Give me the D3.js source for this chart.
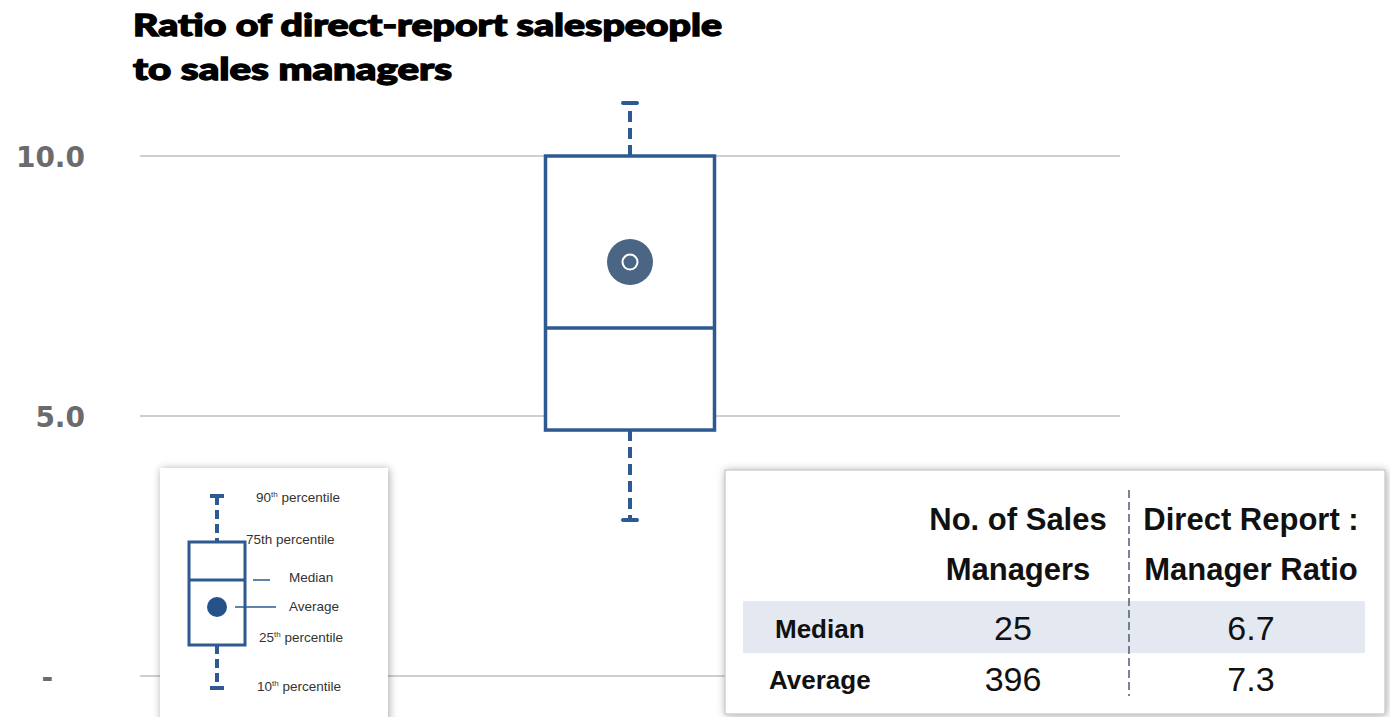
<!DOCTYPE html>
<html>
<head>
<meta charset="utf-8">
<script src="https://cdn.jsdelivr.net/npm/d3@7"></script>
<style>
  body { margin: 0; background: #fff; }
  svg { display: block; }
</style>
</head>
<body>
<div id="chart"></div>
<script>
// values
const yTicks = [0, 5, 10];
const groups = ["All"];
const statNames = ["p10", "p25", "median", "p75", "p90", "mean"];
const statValues = [3.0, 4.73, 6.69, 10.0, 11.02, 7.96];

const legendLabels = ["90th percentile", "75th percentile", "Median", "Average", "25th percentile", "10th percentile"];

const tableHeaders = [["No. of Sales", "Managers"], ["Direct Report :", "Manager Ratio"]];
const rowLabels = ["Median", "Average"];
const managerCounts = ["25", "396"];
const ratios = ["6.7", "7.3"];

const W = 1390, H = 717;
const blue = "#2d5a92";
const stats = {};
statNames.forEach((n, i) => stats[n] = statValues[i]);

const svg = d3.select("#chart").append("svg").attr("width", W).attr("height", H);

const defs = svg.append("defs");
const sh = defs.append("filter").attr("id", "shadow").attr("x", "-10%").attr("y", "-10%").attr("width", "120%").attr("height", "120%");
sh.append("feDropShadow").attr("dx", 1).attr("dy", 1).attr("stdDeviation", 4).attr("flood-color", "#000").attr("flood-opacity", 0.35);

const y = d3.scaleLinear().domain([0, 10]).range([676, 156]);
const x = d3.scalePoint().domain(groups).range([140, 1120]).padding(0.5);
const boxW = 169;

// title
const title = svg.append("g").attr("font-family", "Lato, 'DejaVu Sans', sans-serif").attr("font-weight", 900)
  .attr("font-size", 30).attr("fill", "#000").attr("stroke", "#000").attr("stroke-width", 1.3);
title.append("text").attr("x", 133).attr("y", 36).attr("textLength", 589).attr("lengthAdjust", "spacingAndGlyphs").text("Ratio of direct-report salespeople");
title.append("text").attr("x", 133).attr("y", 80).attr("textLength", 319).attr("lengthAdjust", "spacingAndGlyphs").text("to sales managers");

// gridlines
svg.append("g").selectAll("line").data(yTicks).join("line")
  .attr("x1", 140).attr("x2", 1120)
  .attr("y1", d => y(d)).attr("y2", d => y(d))
  .attr("stroke", "#cfcfcf").attr("stroke-width", 2);

// y axis
const yAxis = svg.append("g").attr("transform", "translate(85,0)")
  .call(d3.axisLeft(y).tickValues(yTicks).tickSize(0).tickPadding(0)
    .tickFormat(d => d === 0 ? "-" : d3.format(".1f")(d)));
yAxis.select(".domain").remove();
yAxis.selectAll("text")
  .attr("font-family", "'DejaVu Sans', Verdana, sans-serif").attr("font-weight", "bold")
  .attr("font-size", 28).attr("fill", "#6b6b6b").attr("dy", "0.36em");
yAxis.selectAll(".tick").filter(d => d === 0).select("text").attr("dx", -32);

// box plot
const g = svg.append("g");
groups.forEach(grp => {
  const cx = x(grp);
  g.append("line").attr("x1", cx).attr("x2", cx).attr("y1", y(stats.p75)).attr("y2", y(stats.p90))
    .attr("stroke", blue).attr("stroke-width", 4).attr("stroke-dasharray", "11,6");
  g.append("line").attr("x1", cx).attr("x2", cx).attr("y1", y(stats.p25)).attr("y2", y(stats.p10))
    .attr("stroke", blue).attr("stroke-width", 4).attr("stroke-dasharray", "11,6");
  [stats.p90, stats.p10].forEach(v => {
    g.append("line").attr("x1", cx - 7).attr("x2", cx + 7).attr("y1", y(v)).attr("y2", y(v))
      .attr("stroke", blue).attr("stroke-width", 4).attr("stroke-linecap", "round");
  });
  g.append("rect").attr("x", cx - boxW / 2).attr("width", boxW)
    .attr("y", y(stats.p75)).attr("height", y(stats.p25) - y(stats.p75))
    .attr("fill", "#fff").attr("stroke", blue).attr("stroke-width", 3.5);
  g.append("line").attr("x1", cx - boxW / 2).attr("x2", cx + boxW / 2)
    .attr("y1", y(stats.median)).attr("y2", y(stats.median))
    .attr("stroke", blue).attr("stroke-width", 3.5);
  g.append("circle").attr("cx", cx).attr("cy", y(stats.mean)).attr("r", 23).attr("fill", "#4b6584");
  g.append("circle").attr("cx", cx).attr("cy", y(stats.mean)).attr("r", 7.5)
    .attr("fill", "#4b6584").attr("stroke", "#fff").attr("stroke-width", 2);
});

// legend panel
const lg = svg.append("g").attr("transform", "translate(160,468)");
lg.append("rect").attr("width", 228).attr("height", 260).attr("fill", "#fff").attr("filter", "url(#shadow)");
const lx = 57, lw = 56;
const ly = { p90: 28, p75: 74, median: 112, mean: 139, p25: 177, p10: 220 };
lg.append("line").attr("x1", lx).attr("x2", lx).attr("y1", ly.p90).attr("y2", ly.p75).attr("stroke", blue).attr("stroke-width", 4).attr("stroke-dasharray", "9,5");
lg.append("line").attr("x1", lx).attr("x2", lx).attr("y1", ly.p25).attr("y2", ly.p10).attr("stroke", blue).attr("stroke-width", 4).attr("stroke-dasharray", "9,5");
[ly.p90, ly.p10].forEach(v => lg.append("line").attr("x1", lx - 7).attr("x2", lx + 7).attr("y1", v).attr("y2", v).attr("stroke", blue).attr("stroke-width", 4));
lg.append("rect").attr("x", lx - lw / 2).attr("y", ly.p75).attr("width", lw).attr("height", ly.p25 - ly.p75).attr("fill", "#fff").attr("stroke", blue).attr("stroke-width", 3);
lg.append("line").attr("x1", lx - lw / 2).attr("x2", lx + lw / 2).attr("y1", ly.median).attr("y2", ly.median).attr("stroke", blue).attr("stroke-width", 3);
lg.append("circle").attr("cx", lx).attr("cy", ly.mean).attr("r", 10).attr("fill", "#26528a");
lg.append("line").attr("x1", 93).attr("x2", 110).attr("y1", ly.median).attr("y2", ly.median).attr("stroke", blue).attr("stroke-width", 1.5);
lg.append("line").attr("x1", 75).attr("x2", 116).attr("y1", ly.mean).attr("y2", ly.mean).attr("stroke", blue).attr("stroke-width", 1.5);

const legPos = [[96, 34], [86, 76], [129, 114], [129, 143], [99, 174], [97, 223]];
legendLabels.forEach((lab, i) => {
  const t = lg.append("text").attr("x", legPos[i][0]).attr("y", legPos[i][1])
    .attr("font-family", "'Liberation Sans', Arial, sans-serif").attr("font-size", 13.5).attr("fill", "#333");
  const m = lab.match(/^(\d+)th (.*)$/);
  if (m && i !== 1) {
    t.append("tspan").text(m[1]);
    t.append("tspan").attr("font-size", 8).attr("dy", -5).text("th");
    t.append("tspan").attr("dy", 5).text(" " + m[2]);
  } else {
    t.text(lab);
  }
});

// table panel
const tb = svg.append("g").attr("transform", "translate(725,470)");
tb.append("rect").attr("width", 660).attr("height", 244).attr("fill", "#fff").attr("stroke", "#bbb").attr("stroke-width", 1).attr("filter", "url(#shadow)");
const narrow = "'Liberation Sans Narrow', 'Arial Narrow', 'Liberation Sans', sans-serif";
const colX = [293, 526];
const rowY = [168, 219];
tb.append("rect").attr("x", 18).attr("y", 131).attr("width", 622).attr("height", 52).attr("fill", "#e4e9f1");
tb.append("line").attr("x1", 404).attr("x2", 404).attr("y1", 20).attr("y2", 226)
  .attr("stroke", "#4d5b6e").attr("stroke-width", 1.5).attr("stroke-dasharray", "8,4");
tableHeaders.forEach((hdr, c) => {
  hdr.forEach((line, k) => {
    tb.append("text").attr("x", colX[c]).attr("y", 60 + k * 50).attr("text-anchor", "middle")
      .attr("font-family", narrow).attr("font-weight", "bold").attr("font-size", 31).attr("fill", "#111")
      .text(line);
  });
});
rowLabels.forEach((r, i) => {
  tb.append("text").attr("x", i === 0 ? 50 : 44).attr("y", rowY[i]).attr("font-family", narrow)
    .attr("font-weight", "bold").attr("font-size", 26).attr("fill", "#111").text(r);
  tb.append("text").attr("x", colX[0] - 5).attr("y", rowY[i] + 2).attr("text-anchor", "middle").attr("font-family", narrow)
    .attr("font-size", 34).attr("fill", "#111").text(managerCounts[i]);
  tb.append("text").attr("x", colX[1]).attr("y", rowY[i] + 2).attr("text-anchor", "middle").attr("font-family", narrow)
    .attr("font-size", 34).attr("fill", "#111").text(ratios[i]);
});
</script>
</body>
</html>
